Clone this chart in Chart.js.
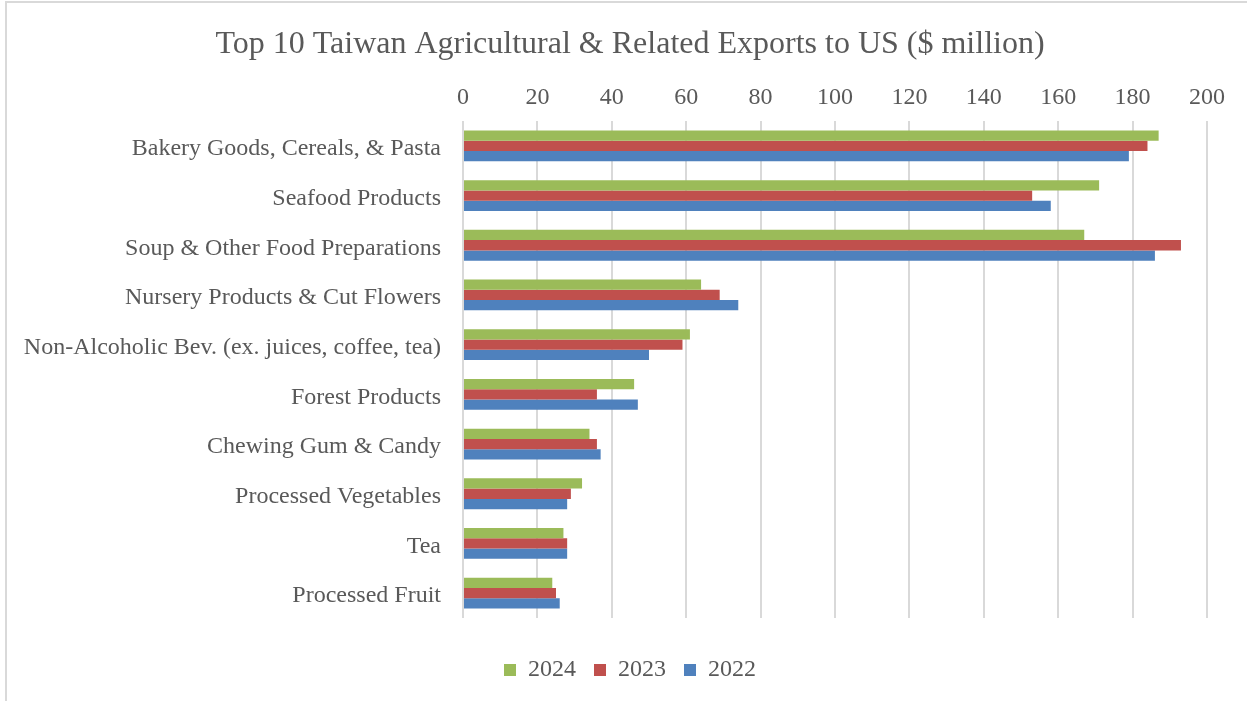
<!DOCTYPE html>
<html>
<head>
<meta charset="utf-8">
<script src="https://cdn.jsdelivr.net/npm/chart.js@4/dist/chart.umd.min.js"></script>
<style>
  html, body { margin: 0; padding: 0; background: #ffffff; }
  #wrap { position: relative; width: 1247px; height: 701px; }
</style>
</head>
<body>
<div id="wrap"><canvas id="c"></canvas></div>
<script>
const categories = [
  "Bakery Goods, Cereals, & Pasta",
  "Seafood Products",
  "Soup & Other Food Preparations",
  "Nursery Products & Cut Flowers",
  "Non-Alcoholic Bev. (ex. juices, coffee, tea)",
  "Forest Products",
  "Chewing Gum & Candy",
  "Processed Vegetables",
  "Tea",
  "Processed Fruit"
];
const values2024 = [187, 171, 167, 64, 61, 46, 34, 32, 27, 24];
const values2023 = [184, 153, 193, 69, 59, 36, 36, 29, 28, 25];
const values2022 = [179, 158, 186, 74, 50, 47, 37, 28, 28, 26];
const xTicks = [0, 20, 40, 60, 80, 100, 120, 140, 160, 180, 200];
const chartTitle = "Top 10 Taiwan Agricultural & Related Exports to US ($ million)";

const textColor = "#595959";
const gridColor = "#d9d9d9";
const fontFamily = "'Liberation Serif', 'Times New Roman', serif";

const frame = {
  id: "frame",
  beforeDraw(chart) {
    const ctx = chart.ctx;
    ctx.save();
    ctx.fillStyle = "#ffffff";
    ctx.fillRect(0, 0, chart.width, chart.height);
    ctx.strokeStyle = gridColor;
    ctx.lineWidth = 2;
    ctx.strokeRect(6, 2, chart.width + 10, chart.height + 10);
    ctx.restore();
  }
};

new Chart(document.getElementById("c"), {
  type: "bar",
  data: {
    labels: categories,
    datasets: [
      { label: "2024", data: values2024, backgroundColor: "#9BBB59" },
      { label: "2023", data: values2023, backgroundColor: "#C0504D" },
      { label: "2022", data: values2022, backgroundColor: "#4F81BD" }
    ]
  },
  options: {
    indexAxis: "y",
    responsive: true,
    maintainAspectRatio: false,
    animation: false,
    layout: { padding: { left: 13, right: 0, top: 0, bottom: 9 } },
    datasets: { bar: { categoryPercentage: 0.62, barPercentage: 1.0, borderWidth: 0 } },
    plugins: {
      title: {
        display: true,
        text: chartTitle,
        color: textColor,
        font: { family: fontFamily, size: 32, weight: "normal" },
        padding: { top: 25, bottom: 0 }
      },
      legend: {
        display: true,
        position: "bottom",
        labels: {
          color: textColor,
          font: { family: fontFamily, size: 24 },
          boxWidth: 12,
          boxHeight: 12,
          padding: 18
        }
      },
      tooltip: { enabled: false }
    },
    scales: {
      x: {
        position: "top",
        min: 0,
        max: 200,
        afterBuildTicks(scale) { scale.ticks = xTicks.map(v => ({ value: v })); },
        afterFit(scale) { scale.height = 57.6; },
        grid: { color: gridColor, lineWidth: 2, drawTicks: false },
        border: { display: false },
        ticks: {
          color: textColor,
          font: { family: fontFamily, size: 24 },
          padding: 9
        }
      },
      x2: {
        type: "linear",
        position: "bottom",
        display: true,
        grid: { display: false, drawTicks: false },
        border: { display: false },
        ticks: { display: false },
        afterFit(scale) { scale.height = 22; }
      },
      y: {
        afterFit(scale) { scale.width = 450; },
        grid: { display: false, drawTicks: false },
        border: { display: false },
        ticks: {
          color: textColor,
          font: { family: fontFamily, size: 24 },
          padding: 22,
          labelOffset: 3
        }
      },
      y2: {
        type: "linear",
        position: "right",
        display: true,
        grid: { display: false, drawTicks: false },
        border: { display: false },
        ticks: { display: false },
        afterFit(scale) { scale.width = 40; }
      }
    }
  },
  plugins: [frame]
});
</script>
</body>
</html>
